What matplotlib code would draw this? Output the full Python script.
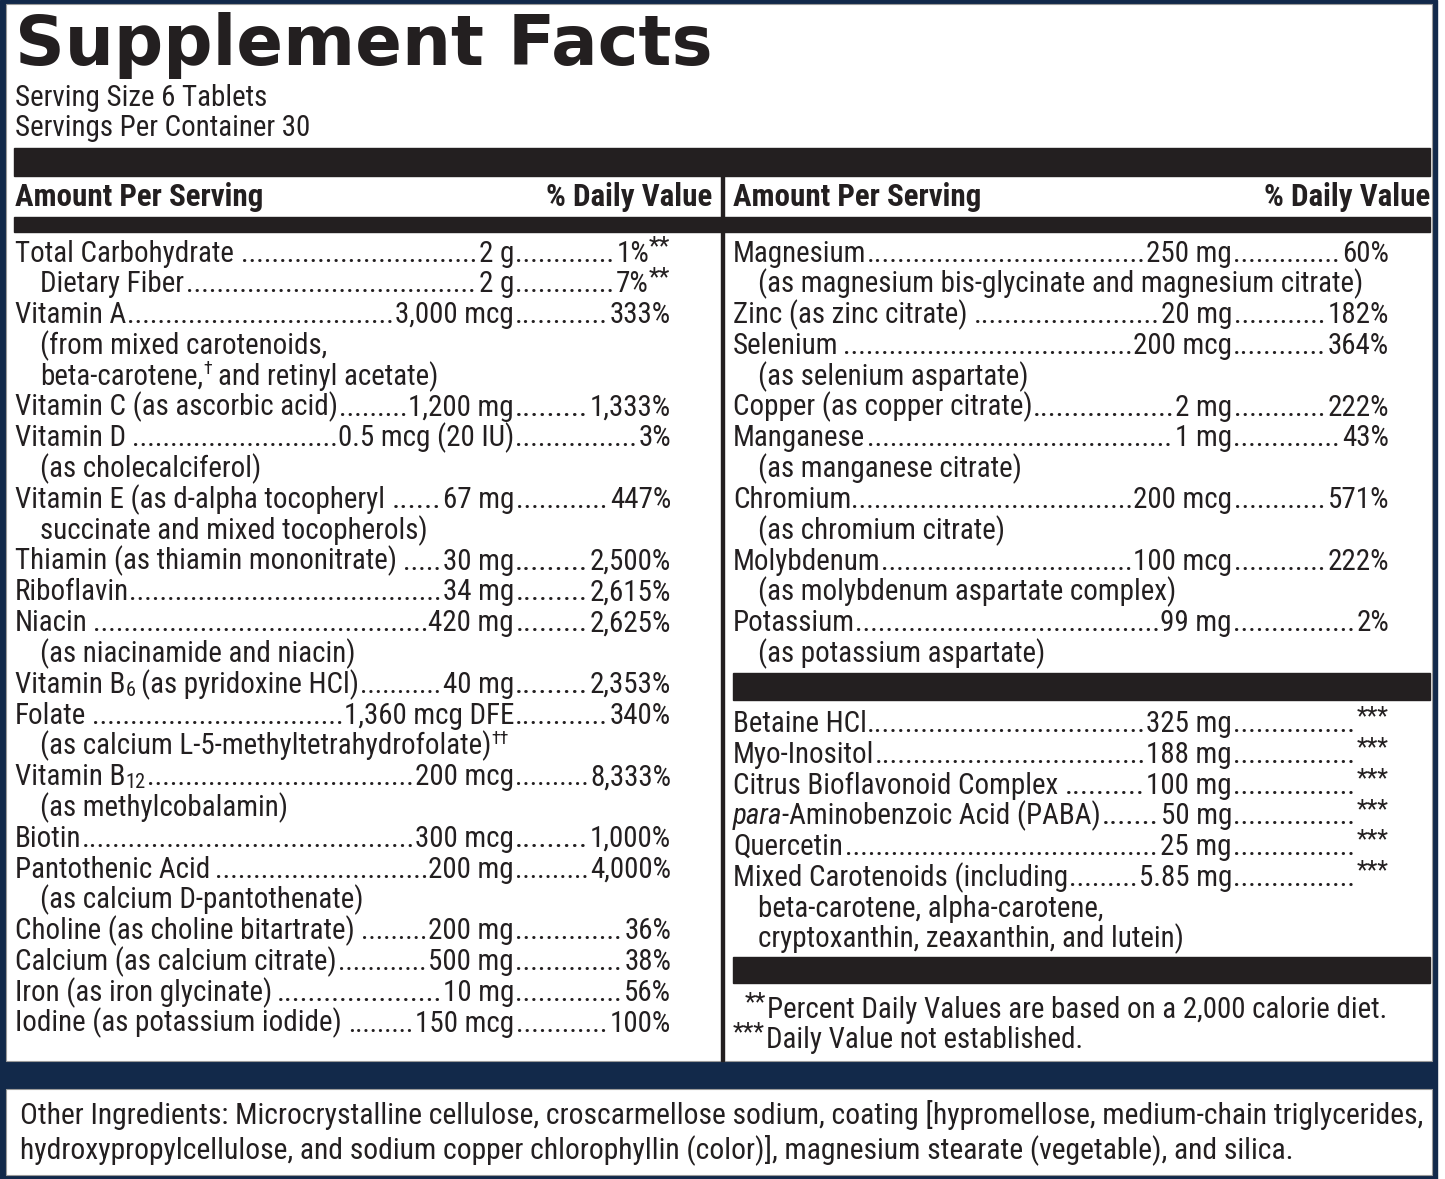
import re
import matplotlib
matplotlib.use('Agg')
import matplotlib.pyplot as plt
from matplotlib.patches import Rectangle

# ---------------- data ----------------
TITLE = "Supplement Facts"
SERVING_LINES = ["Serving Size 6 Tablets", "Servings Per Container 30"]
HEAD_LEFT = "Amount Per Serving"
HEAD_RIGHT = "% Daily Value"

# markup: ^{..} superscript, _{..} subscript, ~{..} italic
LEFT_NAMES = [
    "Total Carbohydrate ", "Dietary Fiber", "Vitamin A", "(from mixed carotenoids,",
    "beta-carotene,^{†} and retinyl acetate)", "Vitamin C (as ascorbic acid)", "Vitamin D ",
    "(as cholecalciferol)", "Vitamin E (as d-alpha tocopheryl ", "succinate and mixed tocopherols)",
    "Thiamin (as thiamin mononitrate) ", "Riboflavin", "Niacin ", "(as niacinamide and niacin)",
    "Vitamin B_{6} (as pyridoxine HCl)", "Folate ", "(as calcium L-5-methyltetrahydrofolate)^{††}",
    "Vitamin B_{12}", "(as methylcobalamin)", "Biotin", "Pantothenic Acid ",
    "(as calcium D-pantothenate)", "Choline (as choline bitartrate) ",
    "Calcium (as calcium citrate)", "Iron (as iron glycinate) ", "Iodine (as potassium iodide) ",
]
LEFT_AMOUNTS = [
    "2 g", "2 g", "3,000 mcg", "", "", "1,200 mg", "0.5 mcg (20 IU)", "", "67 mg", "",
    "30 mg", "34 mg", "420 mg", "", "40 mg", "1,360 mcg DFE", "", "200 mcg", "", "300 mcg",
    "200 mg", "", "200 mg", "500 mg", "10 mg", "150 mcg",
]
LEFT_DV = [
    "1%^{**}", "7%^{**}", "333%", "", "", "1,333%", "3%", "", "447%", "",
    "2,500%", "2,615%", "2,625%", "", "2,353%", "340%", "", "8,333%", "", "1,000%",
    "4,000%", "", "36%", "38%", "56%", "100%",
]
LEFT_SUB = [False, True, False, True, True, False, False, True, False, True,
            False, False, False, True, False, False, True, False, True, False,
            False, True, False, False, False, False]

RIGHT_NAMES = [
    "Magnesium", "(as magnesium bis-glycinate and magnesium citrate)", "Zinc (as zinc citrate) ",
    "Selenium ", "(as selenium aspartate)", "Copper (as copper citrate)", "Manganese",
    "(as manganese citrate)", "Chromium", "(as chromium citrate)", "Molybdenum",
    "(as molybdenum aspartate complex)", "Potassium", "(as potassium aspartate)",
]
RIGHT_AMOUNTS = ["250 mg", "", "20 mg", "200 mcg", "", "2 mg", "1 mg", "", "200 mcg", "",
                 "100 mcg", "", "99 mg", ""]
RIGHT_DV = ["60%", "", "182%", "364%", "", "222%", "43%", "", "571%", "", "222%", "", "2%", ""]
RIGHT_SUB = [False, True, False, False, True, False, False, True, False, True, False, True,
             False, True]

OTHER_NAMES = [
    "Betaine HCl", "Myo-Inositol", "Citrus Bioflavonoid Complex ",
    "~{para}-Aminobenzoic Acid (PABA)", "Quercetin", "Mixed Carotenoids (including",
    "beta-carotene, alpha-carotene,", "cryptoxanthin, zeaxanthin, and lutein)",
]
OTHER_AMOUNTS = ["325 mg", "188 mg", "100 mg", "50 mg", "25 mg", "5.85 mg", "", ""]
OTHER_DV = ["^{***}"] * 6 + ["", ""]
OTHER_SUB = [False] * 6 + [True, True]

FOOTNOTES = ["^{**}Percent Daily Values are based on a 2,000 calorie diet.",
             "^{***}Daily Value not established."]
OTHER_INGREDIENTS = [
    "Other Ingredients: Microcrystalline cellulose, croscarmellose sodium, coating "
    "[hypromellose, medium-chain triglycerides,",
    "hydroxypropylcellulose, and sodium copper chlorophyllin (color)], magnesium "
    "stearate (vegetable), and silica.",
]

# ---------------- style ----------------
INK = "#231f20"
NAVY = "#12294a"
FAM = ['Liberation Sans Narrow', 'Roboto Condensed', 'DejaVu Sans']
TITLE_FAM = ['DejaVu Sans']
PX = 100 / 72.0

W, H = 1445, 1179
fig = plt.figure(figsize=(W / 100, H / 100), dpi=100)
fig.patch.set_facecolor('white')
ax = fig.add_axes([0, 0, 1, 1])
ax.set_xlim(0, W)
ax.set_ylim(H, 0)
ax.axis('off')
renderer = fig.canvas.get_renderer()


def measure(s, size, weight='normal', style='normal', family=FAM):
    t = ax.text(0, 0, s, fontsize=size, family=family, weight=weight, style=style)
    w = t.get_window_extent(renderer).width
    t.remove()
    return w


def fit(s, target, weight='normal', family=FAM, base=20):
    return base * target / measure(s, base, weight, family=family)


_space = {}


def space_w(size, weight='normal'):
    k = (round(size, 3), weight)
    if k not in _space:
        _space[k] = 0.85 * (measure("x x", size, weight) - measure("xx", size, weight))
    return _space[k]


TOKEN = re.compile(r'(\^\{[^}]*\}|_\{[^}]*\}|~\{[^}]*\})')


def parse(s):
    runs = []
    for part in TOKEN.split(s):
        if not part:
            continue
        if part.startswith('^{'):
            runs.append((part[2:-1], 'sup'))
        elif part.startswith('_{'):
            runs.append((part[2:-1], 'sub'))
        elif part.startswith('~{'):
            runs.append((part[2:-1], 'it'))
        else:
            runs.append((part, 'n'))
    return runs


def draw_runs(x, y, s, size, weight='normal', draw=True):
    for text, kind in parse(s):
        sz, dy, style = size, 0.0, 'normal'
        if kind == 'sup':
            if set(text) == {'*'}:
                sz, dy = size * 0.85, -size * PX * 0.26
            else:
                sz, dy = size * 0.62, -size * PX * 0.36
        elif kind == 'sub':
            sz, dy = size * 0.70, size * PX * 0.10
        elif kind == 'it':
            style = 'italic'
        lead = len(text) - len(text.lstrip(' '))
        trail = len(text) - len(text.rstrip(' '))
        core = text.strip(' ')
        sw = space_w(sz, weight)
        x += lead * sw
        if core:
            t = ax.text(x, y + dy, core, fontsize=sz, family=FAM, weight=weight,
                        style=style, color=INK, ha='left', va='baseline')
            w = t.get_window_extent(renderer).width
            if not draw:
                t.remove()
            x += w + (0.8 if kind == 'sup' else 0)
        x += trail * sw
    return x


def draw_right(xr, y, s, size, weight='normal'):
    w = draw_runs(0, y, s, size, weight, draw=False)
    draw_runs(xr - w, y, s, size, weight)
    return xr - w


_dot = {}


def dots(x0, x1, y, size):
    if size not in _dot:
        a = measure('.' * 10, size)
        b = measure('.' * 30, size)
        adv = (b - a) / 20
        _dot[size] = (adv, a - 9 * adv)
    adv, ink = _dot[size]
    gap = x1 - x0
    n = int(round((gap - ink) / adv)) + 1
    if n > 0:
        natural = ink + (n - 1) * adv
        ax.text((x0 + x1) / 2, y, '.' * n, fontsize=size * gap / natural, family=FAM,
                color=INK, ha='center', va='baseline')


def table(names, amounts, dvs, subs, x_name, x_amt, x_dv, y0, pitch, size):
    for i, (nm, am, dv, sb) in enumerate(zip(names, amounts, dvs, subs)):
        y = y0 + i * pitch
        xe = draw_runs(x_name + (25 if sb else 0), y, nm, size)
        if am:
            xa = draw_right(x_amt, y, am, size)
            dots(xe + 1, xa - 1.5, y, size)
            xd = draw_right(x_dv, y, dv, size)
            dots(x_amt + 1.5, xd - 2, y, size)


# ---------------- frame ----------------
ax.add_patch(Rectangle((0, 0), 1437, H, color=NAVY, zorder=0))
ax.add_patch(Rectangle((6, 4), 1426, 1057, facecolor='white', edgecolor='#9a9a9a',
                       lw=0.8, zorder=0.5))
ax.add_patch(Rectangle((6, 1089), 1426, 86, facecolor='white', edgecolor='#9a9a9a',
                       lw=0.8, zorder=0.5))
for (x, y, w, h) in [(14, 148, 1416, 28), (14, 217, 1416, 15), (720.5, 176, 3.5, 885),
                     (733, 673, 697, 27), (733, 957, 697, 26)]:
    ax.add_patch(Rectangle((x, y), w, h, color=INK, zorder=1))

# ---------------- text ----------------
ts = fit(TITLE, 697, weight='heavy', family=TITLE_FAM, base=40)
ax.text(15, 65, TITLE, fontsize=ts, family=TITLE_FAM, weight='heavy', color=INK,
        ha='left', va='baseline')

BODY = fit(RIGHT_NAMES[1], 607)
HEAD = fit(HEAD_LEFT, 248, weight='bold')

for i, s in enumerate(SERVING_LINES):
    draw_runs(15, 106 + i * 30.5, s, BODY)

for xl, xr in [(15, 712), (733, 1430)]:
    draw_runs(xl, 206, HEAD_LEFT, HEAD, weight='bold')
    draw_right(xr, 206, HEAD_RIGHT, HEAD, weight='bold')

PITCH = 30.8
table(LEFT_NAMES, LEFT_AMOUNTS, LEFT_DV, LEFT_SUB, 15, 514, 671, 261.5, PITCH, BODY)
table(RIGHT_NAMES, RIGHT_AMOUNTS, RIGHT_DV, RIGHT_SUB, 733, 1232, 1389, 261.5, PITCH, BODY)
table(OTHER_NAMES, OTHER_AMOUNTS, OTHER_DV, OTHER_SUB, 733, 1232, 1389, 732, PITCH, BODY)

draw_runs(745, 1018, FOOTNOTES[0], BODY)
draw_runs(733, 1048, FOOTNOTES[1], BODY)

OI = fit(OTHER_INGREDIENTS[0], 1402)
draw_runs(20, 1124, OTHER_INGREDIENTS[0], OI)
draw_runs(20, 1158, OTHER_INGREDIENTS[1], OI)

fig.savefig('out.png', dpi=100, facecolor='white')
